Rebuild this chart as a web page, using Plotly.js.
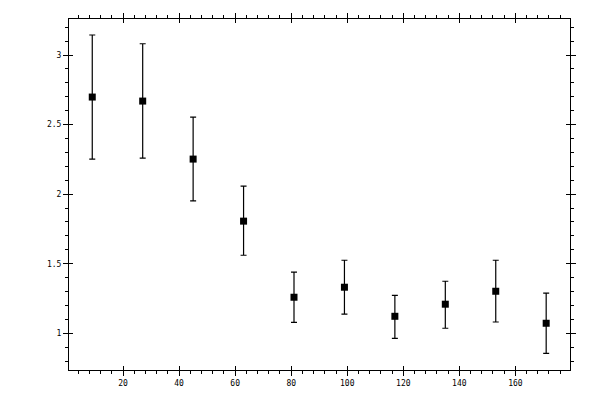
<!DOCTYPE html>
<html>
<head>
<meta charset="utf-8">
<script src="https://cdn.plot.ly/plotly-3.0.1.min.js"></script>
<style>html,body{margin:0;padding:0;background:#fff;}#chart{width:600px;height:400px;}</style>
</head>
<body>
<div id="chart"></div>
<script>
var xValues = [9, 27, 45, 63, 81, 99, 117, 135, 153, 171];
var yValues = [2.698, 2.669, 2.252, 1.806, 1.259, 1.331, 1.122, 1.209, 1.302, 1.072];
var upperValues = [3.144, 3.081, 2.554, 2.058, 1.439, 1.525, 1.273, 1.374, 1.525, 1.288];
var lowerValues = [2.252, 2.259, 1.952, 1.561, 1.079, 1.137, 0.964, 1.036, 1.081, 0.856];

var plus = upperValues.map(function (u, i) { return u - yValues[i]; });
var minus = lowerValues.map(function (l, i) { return yValues[i] - l; });

var xRange = [0.7, 179.5];
var yRange = [0.736, 3.259];
var tickFont = {family: 'DejaVu Sans Mono, monospace', size: 8, color: '#000'};

var trace = {
  x: xValues,
  y: yValues,
  type: 'scatter',
  mode: 'markers',
  marker: {symbol: 'square', size: 7, color: '#000'},
  error_y: {
    type: 'data', symmetric: false, array: plus, arrayminus: minus,
    color: '#000', thickness: 1.2, width: 3
  },
  hoverinfo: 'none',
  showlegend: false
};
// transparent copies that only make the extra tick axes render
function ghost(xa, ya) {
  return {x: xValues, y: yValues, xaxis: xa, yaxis: ya, type: 'scatter', mode: 'markers',
    marker: {opacity: 0, size: 1}, hoverinfo: 'none', showlegend: false};
}

function outerX(side, labels) {
  return {
    range: xRange, dtick: 20, tick0: 0, side: side,
    showgrid: false, zeroline: false,
    showline: true, linecolor: '#000', linewidth: 1,
    ticks: 'outside', ticklen: 5, tickwidth: 1, tickcolor: '#000',
    minor: {dtick: 4, tick0: 0, ticks: 'outside', ticklen: 3, tickwidth: 1, tickcolor: '#000', showgrid: false},
    showticklabels: labels, tickfont: tickFont
  };
}
function outerY(side, labels) {
  return {
    range: yRange, dtick: 0.5, tick0: 0, side: side,
    showgrid: false, zeroline: false,
    showline: true, linecolor: '#000', linewidth: 1,
    ticks: 'outside', ticklen: 5, tickwidth: 1, tickcolor: '#000',
    minor: {dtick: 0.1, tick0: 0, ticks: 'outside', ticklen: 3, tickwidth: 1, tickcolor: '#000', showgrid: false},
    showticklabels: labels, tickfont: tickFont
  };
}

var layout = {
  width: 600, height: 400,
  margin: {l: 69, r: 30, t: 19, b: 30},
  paper_bgcolor: '#fff', plot_bgcolor: '#fff',
  showlegend: false,
  xaxis: outerX('bottom', true),
  yaxis: outerY('left', true),
  xaxis2: {
    overlaying: 'x', anchor: 'y2', side: 'bottom', range: xRange, dtick: 20, tick0: 0,
    showgrid: false, zeroline: false, showline: false, mirror: 'ticks',
    ticks: 'inside', ticklen: 4, tickwidth: 1, tickcolor: '#000',
    showticklabels: false
  },
  yaxis2: {
    overlaying: 'y', anchor: 'x2', side: 'left', range: yRange, dtick: 0.5, tick0: 0,
    showgrid: false, zeroline: false, showline: false, mirror: 'ticks',
    ticks: 'inside', ticklen: 4, tickwidth: 1, tickcolor: '#000',
    showticklabels: false
  }
};
var x3 = outerX('top', false); x3.overlaying = 'x'; x3.anchor = 'y3';
var y3 = outerY('right', false); y3.overlaying = 'y'; y3.anchor = 'x3';
layout.xaxis3 = x3;
layout.yaxis3 = y3;

Plotly.newPlot('chart', [trace, ghost('x2', 'y2'), ghost('x3', 'y3')], layout, {staticPlot: true, displayModeBar: false});
</script>
</body>
</html>
